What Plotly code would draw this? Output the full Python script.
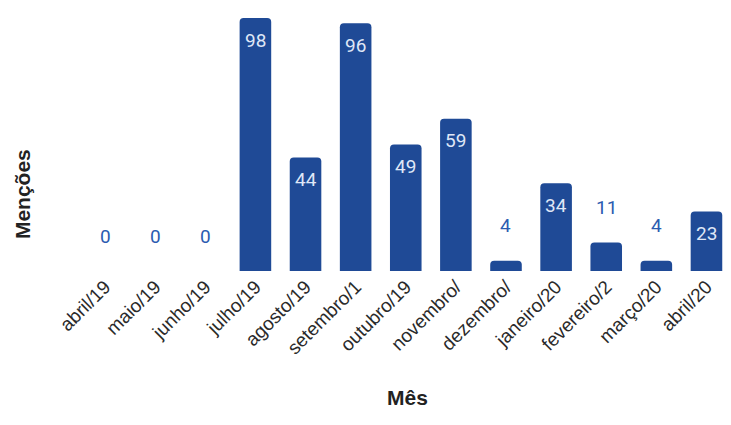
import plotly.graph_objects as go

months = ["abril/19", "maio/19", "junho/19", "julho/19", "agosto/19", "setembro/1",
          "outubro/19", "novembro/", "dezembro/", "janeiro/20", "fevereiro/2", "março/20", "abril/20"]
mentions = [0, 0, 0, 98, 44, 96, 49, 59, 4, 34, 11, 4, 23]

bar_color = "#1f4a96"
label_blue = "#2b5cb0"
inside_color = "#dfe7f7"
inside_min = 20

fig = go.Figure()
fig.add_trace(go.Bar(
    x=months, y=mentions,
    marker=dict(color=bar_color, line=dict(width=0)),
    width=0.63,
    hoverinfo="skip",
))

for m, v in zip(months, mentions):
    if v >= inside_min:
        fig.add_annotation(x=m, y=v, text=str(v), showarrow=False, yshift=-22,
                           font=dict(family="Roboto", size=19, color=inside_color))
    else:
        fig.add_annotation(x=m, y=v, text=str(v), showarrow=False, yshift=35,
                           font=dict(family="Roboto", size=19, color=label_blue))

fig.add_annotation(text="<b>Menções</b>", xref="paper", yref="paper", x=-0.0902, y=0.304,
                   xanchor="center", yanchor="middle",
                   textangle=-90, showarrow=False,
                   font=dict(family="Liberation Sans", size=21, color="#222"))
fig.add_annotation(text="<b>Mês</b>", xref="paper", yref="paper", x=0.51, y=-0.50,
                   xanchor="center", yanchor="middle",
                   showarrow=False,
                   font=dict(family="Liberation Sans", size=21, color="#222"))

fig.update_layout(
    width=715, height=409,
    margin=dict(l=72, r=0, t=10, b=146),
    plot_bgcolor="white", paper_bgcolor="white",
    barcornerradius=4,
    showlegend=False,
    xaxis=dict(range=[-0.5, 12.33], tickangle=-45, showgrid=False, showline=False,
               zeroline=False, ticks="",
               tickfont=dict(family="Liberation Sans", size=19, color="#2a2a2a")),
    yaxis=dict(range=[0, 98], visible=False, showgrid=False),
)

fig.write_html("out.html")
